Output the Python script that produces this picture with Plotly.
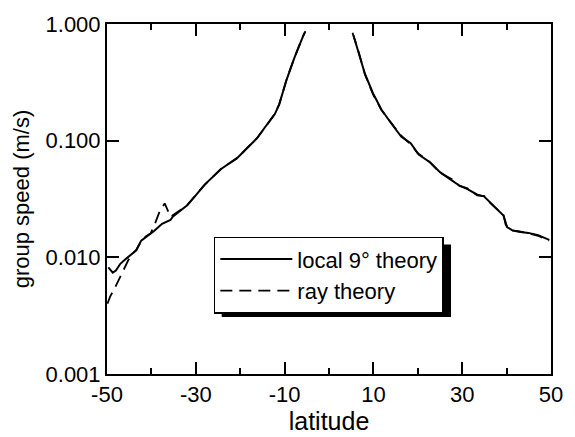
import plotly.graph_objects as go

# ---- data ----
lat_local_left = [-49.7, -48.7, -48.0, -47.0, -45.6, -44.5, -43.4, -42.3, -41.2, -39.4,
                  -37.6, -35.7, -35.2, -33.9, -32.0, -30.2, -28.0, -24.3, -20.6, -18.4,
                  -16.2, -14.0, -12.2, -11.2, -9.6, -7.8, -6.7, -5.9, -5.4]
spd_local_left = [0.0082, 0.0074, 0.0077, 0.0088, 0.0098, 0.0106, 0.0115, 0.0139, 0.0150, 0.0168,
                  0.0194, 0.0209, 0.0223, 0.0245, 0.0278, 0.0333, 0.0420, 0.0572, 0.0715, 0.0865,
                  0.105, 0.137, 0.169, 0.205, 0.329, 0.513, 0.661, 0.776, 0.853]

lat_local_right = [5.5, 6.6, 8.1, 9.9, 11.8, 14.0, 16.3, 18.4, 20.2, 22.8, 25.0, 27.9, 29.4,
                   31.2, 33.4, 34.9, 36.0, 37.5, 39.3, 40.1, 41.2, 42.7, 44.9, 47.1, 49.6]
spd_local_right = [0.80, 0.583, 0.373, 0.255, 0.185, 0.141, 0.108, 0.095, 0.076, 0.065, 0.0537,
                   0.0450, 0.0411, 0.0385, 0.0344, 0.0333, 0.0303, 0.0267, 0.0228, 0.0182,
                   0.0171, 0.0166, 0.0162, 0.0155, 0.0141]

lat_ray_left = [-49.9, -49.3, -48.2, -47.4, -46.7, -45.3, -44.5, -43.4, -42.3, -41.2, -40.2,
                -39.2, -38.1, -37.0, -35.7, -33.9, -32.0, -30.2, -28.0, -24.3, -20.6, -18.4,
                -16.2, -14.0, -12.2, -11.2, -9.6, -7.8, -6.7, -5.9, -5.3]
spd_ray_left = [0.0040, 0.0046, 0.0055, 0.0064, 0.0073, 0.0093, 0.0105, 0.0116, 0.0137, 0.0152,
                0.0160, 0.0194, 0.0250, 0.0290, 0.0223, 0.0247, 0.0278, 0.0335, 0.0418, 0.0575,
                0.0710, 0.0870, 0.1050, 0.136, 0.170, 0.206, 0.330, 0.515, 0.665, 0.780, 0.870]

lat_ray_right = [5.3, 6.6, 8.1, 9.9, 11.8, 14.0, 16.0, 18.4, 20.0, 22.6, 25.0, 27.6, 29.4, 31.2,
                 33.4, 35.0, 36.0, 37.5, 39.3, 39.8, 41.0, 42.7, 44.9, 47.1, 49.6]
spd_ray_right = [0.84, 0.59, 0.37, 0.25, 0.183, 0.142, 0.113, 0.093, 0.078, 0.066, 0.053, 0.047,
                 0.041, 0.0390, 0.0340, 0.0335, 0.0300, 0.0265, 0.0230, 0.0190, 0.0170, 0.0168,
                 0.0160, 0.0153, 0.0139]

x_ticks = [-50, -30, -10, 10, 30, 50]
x_ticktext = ["-50", "-30", "-10", "10", "30", "50"]
x_minor = [-40, -20, 0, 20, 40]
y_ticks = [0.001, 0.01, 0.1, 1.0]
y_ticktext = ["0.001", "0.010", "0.100", "1.000"]

FONT = "Liberation Sans, Arial, Helvetica, sans-serif"

fig = go.Figure()
fig.add_trace(go.Scatter(x=lat_local_left, y=spd_local_left, mode="lines",
                         line=dict(color="black", width=2), name="local 9\u00b0 theory",
                         legendgroup="a"))
fig.add_trace(go.Scatter(x=lat_local_right, y=spd_local_right, mode="lines",
                         line=dict(color="black", width=2), name="local 9\u00b0 theory",
                         legendgroup="a", showlegend=False))
fig.add_trace(go.Scatter(x=lat_ray_left, y=spd_ray_left, mode="lines",
                         line=dict(color="black", width=1.8, dash="12px,7px"), name="ray theory",
                         legendgroup="b"))
fig.add_trace(go.Scatter(x=lat_ray_right, y=spd_ray_right, mode="lines",
                         line=dict(color="black", width=1.8, dash="12px,7px"), name="ray theory",
                         legendgroup="b", showlegend=False))

L, R, T, B = 107, 15, 20, 55
W, H = 575, 437
pw, ph = W - L - R, H - T - B

def px2paper(xp, yp):
    return (xp - L) / pw, (H - B - yp) / ph

# legend shadow (offset black box behind the legend)
sx0, sy0 = px2paper(224, 323)
sx1, sy1 = px2paper(458, 248)
fig.add_shape(type="rect", xref="paper", yref="paper", x0=sx0, y0=sy0, x1=sx1, y1=sy1,
              fillcolor="black", line=dict(width=0), layer="above")

lx, ly = px2paper(216, 240)

fig.update_layout(
    width=W, height=H,
    margin=dict(l=L, r=R, t=T, b=B),
    paper_bgcolor="white", plot_bgcolor="white",
    font=dict(family=FONT, size=20, color="black"),
    showlegend=True,
    legend=dict(x=lx, y=ly, xanchor="left", yanchor="top",
                bgcolor="white", bordercolor="black", borderwidth=1.5,
                font=dict(size=22), itemwidth=72, tracegroupgap=0),
    xaxis=dict(range=[-50, 50], tickvals=x_ticks, ticktext=x_ticktext, ticks="inside",
               ticklen=12, tickwidth=1.5,
               tickcolor="black", showline=True, linecolor="black", linewidth=2,
               mirror="ticks", showgrid=False, zeroline=False,
               minor=dict(tickvals=x_minor, ticks="inside", ticklen=6, tickwidth=1.5,
                          tickcolor="black", showgrid=False),
               tickfont=dict(size=22),
               title=dict(text="latitude", font=dict(size=25), standoff=0)),
    yaxis=dict(type="log", range=[-3, 0], tickvals=y_ticks, ticktext=y_ticktext,
               ticks="inside", ticklen=12, tickwidth=1.5, tickcolor="black",
               showline=True, linecolor="black", linewidth=2, mirror="ticks",
               showgrid=False, zeroline=False, tickfont=dict(size=22),
               title=dict(text="group speed (m/s)", font=dict(size=22), standoff=10)),
)

fig.write_html("out.html")
